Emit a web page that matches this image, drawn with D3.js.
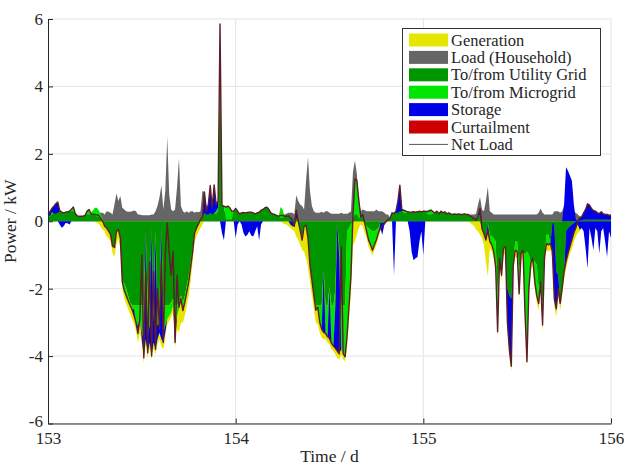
<!DOCTYPE html>
<html><head><meta charset="utf-8">
<script src="https://cdn.jsdelivr.net/npm/d3@7"></script>
<style>
body{margin:0;background:#fff;}
svg{display:block;font-family:"Liberation Serif","Times New Roman",serif;}
</style>
</head><body>
<svg id="chart" width="624" height="467"></svg>
<script>
// ---- sampling (15-minute resolution, days 153..156)
const startDay = 153;
const samplesPerDay = 96;
const xTicks = [153, 154, 155, 156];
const yTicks = [-6, -4, -2, 0, 2, 4, 6];
const legendNames = ["Generation","Load (Household)","To/from Utility Grid","To/from Microgrid","Storage","Curtailment","Net Load"];
const legendColors = ["#e6e600","#666666","#009600","#00e600","#0000e6","#cc0000","#5e1d2b"];

// ---- series (kW)
const netLoad = [
.22,.28,.38,.45,.52,.57,.32,.27,.25,.27,.28,.30,
.36,.42,.22,.16,.15,.15,.15,.18,.30,.35,.22,.20,
.20,.19,.17,.08,0,-.15,-.2,-.29,-.4,-.74,-.78,-.3,
-.25,-.5,-1.8,-2.05,-2.2,-2.35,-2.5,-2.62,-2.8,-3.0,-3.33,-2.9,
-1.0,-4.05,-1.5,-3.9,-1.2,-4.0,-1.5,-3.8,-2.0,-3.2,-1.2,-3.6,
-1.0,-.05,-.9,-1.6,-.9,-3.6,-1.6,-2.55,-2.3,-2.65,-2.4,-2.1,
-1.8,-1.35,-.9,-.35,-.2,-.08,.05,.12,.87,.3,.5,1.06,
.4,1.08,.5,.6,5.85,.47,.45,.42,.45,.4,.3,.3,
.38,.3,.22,.25,.26,.25,.26,.27,.27,.25,.22,.25,
.27,.33,.35,.4,.42,.35,.25,.22,.2,.17,.15,.17,
.17,.15,.15,.16,.1,.05,-.15,.33,0,-.27,-.56,-.15,
-.12,-.5,-1.3,-1.75,-2.2,-2.64,-2.55,-3.0,-3.2,-3.3,-3.33,-3.42,
-3.48,-3.62,-3.7,-3.77,-3.85,-3.93,-.76,-3.93,-4.02,-3.4,-2.5,-1.6,
.2,1.26,1.2,.62,.13,.2,-.05,-.3,-.56,-.7,-.86,-.7,
-.55,-.35,-.2,-.15,-.07,0,.05,.1,.25,.23,.3,.6,
1.07,.35,.33,.3,.28,.27,.27,.28,.27,.28,.3,.28,
.3,.3,.28,.3,.33,.28,.25,.3,.22,.3,.25,.28,
.22,.25,.22,.2,.22,.2,.22,.2,.2,.22,.2,.2,
.15,.12,.08,.03,.15,.38,-.22,-.37,-.56,-.25,-.6,-.7,
-.9,-1.35,-3.28,-1.1,-1.6,-.8,-.76,-3.0,-3.8,-4.3,-1.3,-.86,
-.9,-2.15,-.96,-.86,-2.7,-4.17,-2.0,-1.25,-1.1,-1.8,-2.2,-2.44,
-1.8,-3.08,-1.06,-.66,-.7,-.66,-.9,-2.3,-2.6,-2.0,-2.44,-2.0,
-1.5,-1.2,-.96,-.75,-.55,-.35,-.2,0,.1,.13,.25,.35,
.52,.48,.38,.32,.3,.25,.23,.28,.22,.2,.2,.18,.18
];
const load = [
.22,.28,.38,.45,.52,.57,.32,.27,.25,.27,.28,.30,
.36,.42,.22,.16,.15,.15,.15,.18,.30,.35,.25,.25,
.3,.3,.25,.25,.25,.2,.3,.28,.25,.2,.5,.82,
.6,.75,.4,.35,.3,.28,.28,.3,.32,.3,.2,.2,
.18,.18,.18,.18,.18,.2,.2,.3,.45,.7,1.07,.35,
.9,2.5,.8,.35,.3,.35,1.0,1.87,.45,.3,.25,.3,
.25,.3,.3,.25,.28,.27,.3,.9,.87,.5,.3,.3,
.3,.3,.3,.3,.3,.3,.3,.3,.3,.3,.3,.3,
.38,.3,.22,.25,.26,.25,.26,.27,.27,.25,.22,.25,
.27,.33,.35,.4,.42,.35,.25,.22,.2,.17,.15,.17,
.2,.2,.22,.25,.25,.25,.2,.77,.6,.5,.45,.35,
1.2,1.9,.9,.45,.3,.25,.25,.25,.28,.25,.3,.3,
.25,.22,.22,.22,.22,.22,.25,.22,.22,.22,.25,.3,
1.46,1.8,1.4,.6,.3,.35,.33,.3,.3,.3,.3,.3,
.35,.3,.3,.3,.25,.2,.2,.1,.25,.23,.3,.6,
1.07,.35,.33,.3,.28,.27,.27,.28,.27,.28,.3,.28,
.3,.3,.28,.3,.33,.28,.25,.3,.22,.3,.25,.28,
.22,.25,.22,.2,.22,.2,.22,.2,.2,.22,.2,.2,
.2,.2,.2,.22,.5,.72,.35,.3,.6,1.02,.3,.25,
.2,.2,.2,.2,.2,.2,.2,.2,.2,.2,.2,.2,
.2,.2,.2,.2,.2,.2,.2,.2,.2,.2,.2,.25,
.38,.25,.2,.2,.2,.2,.2,.3,.3,.3,.25,.3,
.45,.4,.3,.3,.28,.28,.25,.2,.15,.13,.25,.35,
.52,.48,.38,.32,.3,.25,.23,.28,.22,.2,.2,.18,.18
];
const generation = [
0,0,0,0,0,0,0,0,0,0,0,0,
0,0,0,0,0,0,0,0,0,0,0,0,
0,-.05,-.08,-.17,-.25,-.3,-.45,-.5,-.6,-.95,-1.05,-.7,
-.5,-.8,-2.0,-2.3,-2.45,-2.6,-2.75,-2.9,-3.05,-3.25,-3.6,-3.3,
-3.65,-4.2,-3.65,-4.05,-3.75,-4.1,-3.75,-3.95,-3.65,-3.5,-3.7,-3.8,
-3.45,-3.05,-2.95,-2.85,-2.7,-3.75,-3.2,-3.3,-3.0,-3.0,-2.8,-2.5,
-2.2,-1.75,-1.2,-.6,-.45,-.3,-.2,-.1,0,0,0,0,
0,0,0,0,0,0,0,0,0,0,0,0,
0,0,0,0,0,0,0,0,0,0,0,0,
0,0,0,0,0,0,0,0,0,0,0,0,
-.05,-.08,-.1,-.15,-.2,-.25,-.3,-.45,-.55,-.7,-.85,-.9,
-1.1,-1.35,-1.8,-2.2,-2.6,-3.0,-3.05,-3.3,-3.45,-3.5,-3.5,-3.6,
-3.65,-3.8,-3.85,-3.95,-4.05,-4.1,-3.95,-4.1,-4.15,-3.7,-2.9,-2.1,
-.7,-.6,-.4,-.2,-.1,-.15,-.35,-.5,-.75,-.9,-1.0,-.85,
-.7,-.5,-.3,-.2,-.1,-.05,-.02,0,0,0,0,0,
0,0,0,0,0,0,0,0,0,0,0,0,
0,0,0,0,0,0,0,0,0,0,0,0,
0,0,0,0,0,0,0,0,0,0,0,0,
-.05,-.1,-.15,-.25,-.3,-.4,-.5,-.7,-1.2,-1.65,-.8,-.9,
-1.1,-1.6,-3.45,-1.3,-1.8,-1.0,-.95,-3.2,-4.0,-4.45,-1.5,-1.05,
-1.1,-2.35,-1.15,-1.05,-2.9,-4.3,-2.2,-1.45,-1.3,-2.0,-2.4,-2.65,
-2.0,-3.3,-1.25,-.85,-.9,-.85,-1.1,-2.5,-2.85,-2.2,-2.65,-2.2,
-1.75,-1.4,-1.15,-.95,-.8,-.6,-.45,-.35,-.3,-.2,-.15,-.1,
-.05,0,0,0,0,0,0,0,0,0,0,0,0
];
const grid = [
.12,.15,.2,.22,.22,.25,.3,.27,.25,.27,.28,.3,
.3,.3,.22,.16,.15,.15,.15,.18,.2,.2,.2,.18,
.18,.15,.12,.05,0,-.15,-.2,-.29,-.4,-.74,-.78,-.3,
-.25,-.5,-1.8,-1.85,-2.0,-2.2,-2.4,-2.5,-2.5,-2.5,-2.5,-2.5,
-2.5,-2.5,-.3,-2.5,-2.5,-.2,-2.5,-.3,-2.5,-2.5,-.2,-2.5,
-2.5,-2.5,-2.5,-2.4,-2.3,-2.5,-2.5,-2.4,-2.2,-2.4,-2.2,-1.9,
-1.6,-1.2,-.8,-.3,-.2,-.08,.05,.12,.25,.2,.2,.25,
.2,.25,.2,.3,5.3,.47,.45,.05,.05,.05,.05,.3,
.38,.3,.22,.25,.26,.25,.26,.27,.27,.25,.22,.25,
.27,.33,.35,.4,.42,.35,.25,.22,.2,.17,.15,.1,
.1,.15,.15,.16,.1,.05,-.15,.1,0,-.27,-.56,-.15,
-.12,-.5,-1.3,-1.75,-2.2,-2.5,-2.5,-2.5,-2.5,-1.45,-2.5,-2.5,
-1.95,-2.5,-2.5,-2.0,-.05,-.8,-2.5,-2.5,-2.5,-.3,-.2,-.1,
.1,.2,.2,.1,.13,.2,-.05,-.15,-.2,-.25,-.3,-.3,
-.25,-.2,-.05,-.05,-.02,0,.05,.1,.25,.23,.25,.25,
.3,.3,.25,.22,.28,.27,.27,.28,.27,.28,.3,.28,
.3,.3,.2,.2,.2,.22,.25,.3,.22,.3,.25,.28,
.22,.25,.22,.2,.22,.2,.22,.2,.2,.22,.2,.2,
.15,.12,.08,.03,.15,.2,-.22,-.37,-.46,-.05,-.4,-.45,
-.5,-.6,-2.3,-1.1,-1.6,-.8,-.76,-2.0,-2.2,-2.3,-1.3,-.6,
-.6,-1.5,-.96,-.86,-1.0,-.9,-1.0,-1.25,-1.1,-1.2,-1.3,-2.0,
-1.8,-2.5,-1.06,-.4,-.4,-.66,-.05,-.05,-1.5,-1.6,-2.44,-2.0,
-1.5,-.3,-.2,-.15,-.1,-.05,0,0,.03,.03,.05,.05,
.05,.05,.05,.05,.05,.05,.05,.05,.05,.05,.05,.05,.05
];
const microgrid = [
.1,0,.08,0,0,0,0,0,0,0,0,0,
.06,.12,0,0,0,0,0,0,.1,.15,.05,.15,
.22,.25,.2,.15,.05,0,0,0,0,0,0,0,
0,0,0,-.2,-.2,-.15,-.1,-.12,-.1,-.5,-.6,-.4,
-.8,-1.0,0,-.9,-.6,0,-.5,-.1,-.6,-.5,0,-.8,
-.6,-.4,-.3,-.3,-.2,-.6,-.3,-.2,-.15,-.25,-.2,-.2,
-.2,-.15,-.1,0,0,0,0,0,0,0,0,0,
0,0,.1,.1,.55,0,0,.37,.4,.35,.25,0,
0,0,0,0,0,0,0,0,0,0,0,0,
0,0,0,0,0,0,0,0,0,0,0,.32,
.25,0,0,0,0,0,0,0,0,0,0,0,
0,0,0,0,0,-.14,-.05,-.5,-.7,0,-.83,-.92,
0,-1.12,-1.2,-.5,0,-.3,-1.3,-1.43,-1.52,-3.1,-2.3,-1.5,
.1,1.06,1.0,.52,0,0,0,-.15,-.36,-.45,-.56,-.4,
-.3,-.15,0,0,0,0,0,0,0,0,0,0,
0,0,.08,.1,0,0,0,0,0,0,0,0,
0,0,.12,.15,.15,.06,0,0,0,0,0,0,
0,0,0,0,0,0,0,0,0,0,0,0,
0,0,0,0,0,0,0,0,0,0,-.2,-.25,
-.4,-.75,-.98,0,0,0,0,0,0,0,0,-.26,
-.3,-.65,0,0,-1.7,-3.27,-1.0,0,0,-.6,-.9,-.44,
0,-.58,0,-.26,-.3,0,0,0,0,0,0,0,
0,0,0,0,0,0,0,0,0,0,0,0,
0,0,0,0,0,0,0,0,0,0,0,0,0
];
const storageDischarge = [
0,.13,.1,.23,.3,.32,0,0,0,0,0,0,
0,0,0,0,0,0,0,0,0,0,0,0,
0,0,0,0,0,0,0,0,0,0,0,0,
0,0,0,0,0,0,0,0,0,0,0,0,
0,0,0,0,0,0,0,0,0,0,0,0,
0,0,0,0,0,0,0,0,0,0,0,0,
0,0,0,0,0,0,0,0,.62,.1,.3,.81,
.2,.83,.2,.2,0,0,0,0,0,0,0,0,
0,0,0,0,0,0,0,0,0,0,0,0,
0,0,0,0,0,0,0,0,0,0,0,0,
0,0,0,0,0,0,0,.23,0,0,0,0,
0,0,0,0,0,0,0,0,0,0,0,0,
0,0,0,0,0,0,0,0,0,0,0,0,
0,0,0,0,0,0,0,0,0,0,0,0,
0,0,0,0,0,0,0,0,0,0,.05,.35,
.77,.05,0,0,0,0,0,0,0,0,0,0,
0,0,0,0,0,0,0,0,0,0,0,0,
0,0,0,0,0,0,0,0,0,0,0,0,
0,0,0,0,0,.18,0,0,0,0,0,0,
0,0,0,0,0,0,0,0,0,0,0,0,
0,0,0,0,0,0,0,0,0,0,0,0,
0,0,0,0,0,0,0,0,0,0,0,0,
.5,1.6,1.5,1.35,1.2,.5,.05,0,.07,.1,.2,.3,
.47,.43,.33,.27,.25,.2,.18,.23,.17,.15,.15,.13,.13
];
const storageCharge = [
0,0,0,0,0,0,-.1,-.19,-.15,-.05,-.06,-.1,
0,0,0,0,0,0,0,0,0,0,0,0,
0,0,0,0,0,0,0,0,0,0,0,0,
0,0,0,0,0,0,0,0,-.2,0,-.23,0,
-.2,-.55,-3.2,-.5,-.5,-3.8,-.6,-3.4,-.4,-.3,-3.3,-.3,
-.2,0,0,0,0,-.5,0,0,0,0,0,0,
0,0,0,0,0,0,0,0,0,0,0,0,
0,0,0,0,0,-.35,-.56,0,0,0,0,0,
-.5,-.1,0,-.1,-.35,-.45,-.4,-.3,-.42,-.45,-.3,-.15,
-.56,-.1,0,0,0,0,0,0,0,0,0,0,
0,0,0,0,-.1,-.15,0,0,0,0,0,0,
0,0,0,0,0,0,0,0,0,-1.85,0,0,
-1.53,0,0,-1.27,-3.8,-2.83,0,0,0,0,0,0,
0,0,0,0,0,0,0,0,0,0,0,0,
0,0,-.15,-.35,-.1,0,0,0,0,-1.6,0,0,
0,0,0,0,0,-.3,-.9,-1.16,-1.1,-1.06,-.6,-.3,
-1.0,0,0,0,0,0,0,0,0,0,0,0,
0,0,0,0,0,0,0,0,0,0,0,0,
0,0,0,0,0,0,0,0,-.1,-.3,0,0,
0,0,0,0,0,0,0,-1.0,-1.6,-2.0,0,0,
0,0,0,0,0,0,0,0,0,0,0,0,
0,0,0,0,0,0,-.85,-2.25,-1.1,-.4,0,0,
0,-.9,-.76,-.6,-.45,-.3,-.2,-.1,-.25,-.2,-.3,-.8,
-1.4,-.2,-.5,-.86,-.2,-.3,-.96,-.3,-.2,-.6,-1.06,-.3,-.5
];
const curtailment = [
0,0,0,0,0,0,0,0,0,0,0,0,0,0,0,0,0,0,0,0,0,0,0,0,
0,0,0,0,0,0,0,0,0,0,0,0,0,0,0,0,0,0,0,0,0,0,0,0,
0,0,0,0,0,0,0,0,0,0,0,0,0,0,0,0,0,0,0,0,0,0,0,0,
0,0,0,0,0,0,0,0,0,0,0,0,0,0,0,0,0,0,0,0,0,0,0,0,
0,0,0,0,0,0,0,0,0,0,0,0,0,0,0,0,0,0,0,0,0,0,0,0,
0,0,0,0,0,0,0,0,0,0,0,0,0,0,0,0,0,0,0,0,0,0,0,0,
0,0,0,0,0,0,0,0,0,0,0,0,0,0,0,0,0,0,0,0,0,0,0,0,
0,0,0,0,0,0,0,0,0,0,0,0,0,0,0,0,0,0,0,0,0,0,0,0,
0,0,0,0,0,0,0,0,0,0,0,0,0,0,0,0,0,0,0,0,0,0,0,0,
0,0,0,0,0,0,0,0,0,0,0,0,0,0,0,0,0,0,0,0,0,0,0,0,
0,0,0,0,0,0,0,0,0,0,0,0,0,0,0,0,0,0,0,0,0,0,0,0,
0,0,0,0,0,0,0,0,0,0,0,0,0,0,0,0,0,0,0,0,0,0,0,0,
0
];

// ---- layout
const plot = {left: 48, right: 611, top: 19, bottom: 423.5};
const svg = d3.select("#chart");
const x = d3.scaleLinear().domain([153, 156]).range([plot.left, plot.right]);
const y = d3.scaleLinear().domain([-6, 6]).range([plot.bottom, plot.top]);
const time = netLoad.map((_, i) => startDay + i / samplesPerDay);

// gridlines
const gGrid = svg.append("g");
gGrid.selectAll("line.v").data(xTicks.slice(1)).join("line")
  .attr("x1", d => x(d)).attr("x2", d => x(d))
  .attr("y1", plot.top).attr("y2", plot.bottom)
  .attr("stroke", "#e3e3e3").attr("stroke-width", 1);
gGrid.selectAll("line.h").data(yTicks).join("line")
  .attr("x1", plot.left).attr("x2", plot.right)
  .attr("y1", d => y(d)).attr("y2", d => y(d))
  .attr("stroke", "#e3e3e3").attr("stroke-width", 1);

// generation & load (independent areas from zero)
const gArea = svg.append("g");
const simpleArea = vals => d3.area().x((d, i) => x(time[i])).y0(y(0)).y1((d, i) => y(vals[i]))(vals);
gArea.append("path").attr("d", simpleArea(generation)).attr("fill", legendColors[0]);
gArea.append("path").attr("d", simpleArea(load)).attr("fill", legendColors[1]);

// supply side: diverging stack (positive and negative parts stacked separately)
const supply = [
  {vals: grid, color: legendColors[2]},
  {vals: microgrid, color: legendColors[3]},
  {vals: storageDischarge, color: legendColors[4]},
  {vals: storageCharge, color: legendColors[4]},
  {vals: curtailment, color: legendColors[5]}
];
const posBase = time.map(() => 0), negBase = time.map(() => 0);
supply.forEach(s => {
  const p0 = posBase.slice(), n0 = negBase.slice();
  s.vals.forEach((v, i) => { if (v > 0) posBase[i] += v; else negBase[i] += v; });
  const p1 = posBase.slice(), n1 = negBase.slice();
  const a = d3.area().x((d, i) => x(time[i]));
  gArea.append("path").attr("fill", s.color)
    .attr("d", a.y0((d, i) => y(p0[i])).y1((d, i) => y(p1[i]))(time));
  gArea.append("path").attr("fill", s.color)
    .attr("d", a.y0((d, i) => y(n0[i])).y1((d, i) => y(n1[i]))(time));
});

// net load line
svg.append("path")
  .attr("d", d3.line().x((d, i) => x(time[i])).y(d => y(d))(netLoad))
  .attr("fill", "none").attr("stroke", legendColors[6]).attr("stroke-width", 1.4)
  .attr("stroke-linejoin", "round");

// axes
const axisColor = "#262626";
const gx = svg.append("g").attr("transform", `translate(0,${plot.bottom})`)
  .call(d3.axisBottom(x).tickValues(xTicks).tickFormat(d3.format("d"))
    .tickSizeInner(-5).tickSizeOuter(0).tickPadding(8));
const gy = svg.append("g").attr("transform", `translate(${plot.left},0)`)
  .call(d3.axisLeft(y).tickValues(yTicks).tickFormat(d3.format("d"))
    .tickSizeInner(-5).tickSizeOuter(0).tickPadding(5));
[gx, gy].forEach(g => {
  g.select(".domain").attr("stroke", axisColor);
  g.selectAll(".tick line").attr("stroke", axisColor);
  g.selectAll(".tick text").attr("fill", axisColor)
    .style("font-family", '"Liberation Serif",serif').style("font-size", "17px");
});
gy.selectAll(".tick text").text(d => d < 0 ? "-" + Math.abs(d) : d)
  .attr("dy", d => d === -6 ? "0.2em" : "0.32em");

svg.append("text").attr("x", (plot.left + plot.right) / 2).attr("y", 462)
  .attr("text-anchor", "middle").attr("fill", axisColor).style("font-size", "17.5px")
  .text("Time / d");
svg.append("text").attr("transform", `translate(16,${y(0)}) rotate(-90)`)
  .attr("text-anchor", "middle").attr("fill", axisColor).style("font-size", "17.5px")
  .text("Power / kW");

// legend
const lg = svg.append("g");
lg.append("rect").attr("x", 402.5).attr("y", 28.5).attr("width", 198).attr("height", 127)
  .attr("fill", "#fff").attr("stroke", "#333").attr("stroke-width", 1);
legendNames.forEach((name, k) => {
  const cy = 40 + k * 17.4;
  if (k < 6) {
    lg.append("rect").attr("x", 409).attr("y", cy - 6.5).attr("width", 39).attr("height", 13)
      .attr("fill", legendColors[k]);
  } else {
    lg.append("line").attr("x1", 409).attr("x2", 448).attr("y1", cy).attr("y2", cy)
      .attr("stroke", "#555").attr("stroke-width", 1);
  }
  lg.append("text").attr("x", 451).attr("y", cy + 5.5).attr("fill", axisColor)
    .style("font-size", "16.5px").text(name);
});
</script>
</body></html>
